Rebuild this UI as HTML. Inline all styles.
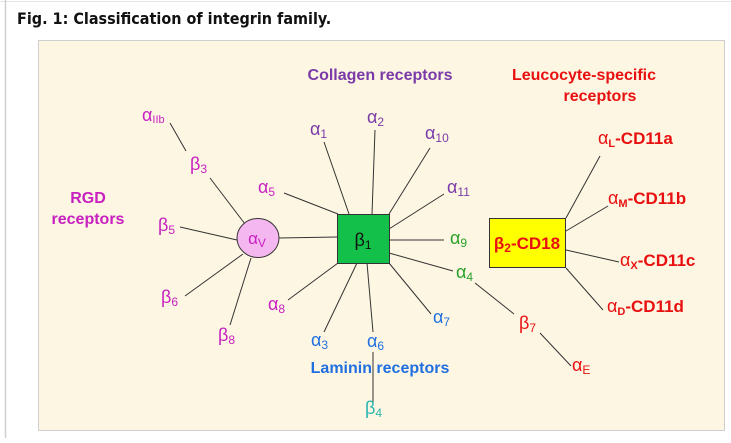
<!DOCTYPE html>
<html><head><meta charset="utf-8"><style>
body{margin:0;background:#fff;width:731px;height:438px;overflow:hidden;font-family:"Liberation Sans",Arial,sans-serif}
</style></head><body>
<svg width="731" height="438" viewBox="0 0 731 438" xmlns="http://www.w3.org/2000/svg" font-family="Liberation Sans, Arial, sans-serif">
<line x1="0" y1="1.5" x2="731" y2="1.5" stroke="#e4e4e4"/>
<line x1="5.5" y1="0" x2="5.5" y2="438" stroke="#cfcfcf" stroke-width="1.5"/>
<text x="17" y="24" font-size="16" font-weight="bold" fill="#111" font-family="DejaVu Sans Condensed, Liberation Sans Narrow, sans-serif">Fig. 1: Classification of integrin family.</text>
<rect x="38.5" y="40.5" width="686" height="390" fill="#fdf6e2" stroke="#cfcfcf"/>
<g stroke="#333" stroke-width="1">
<line x1="170" y1="123" x2="186" y2="151"/>
<line x1="210" y1="178" x2="245" y2="224"/>
<line x1="284" y1="193" x2="338" y2="214"/>
<line x1="324" y1="142" x2="349" y2="214"/>
<line x1="375" y1="130" x2="372" y2="214"/>
<line x1="430" y1="148" x2="389" y2="214"/>
<line x1="444" y1="194" x2="389" y2="229"/>
<line x1="389" y1="240" x2="444" y2="240"/>
<line x1="389" y1="253" x2="453" y2="271"/>
<line x1="389" y1="263" x2="431" y2="314"/>
<line x1="475" y1="283" x2="514" y2="314"/>
<line x1="540" y1="333" x2="571" y2="366"/>
<line x1="367" y1="263" x2="373" y2="332"/>
<line x1="373" y1="352" x2="373" y2="402"/>
<line x1="357" y1="263" x2="324" y2="332"/>
<line x1="338" y1="263" x2="288" y2="300"/>
<line x1="279" y1="238" x2="337" y2="237"/>
<line x1="180" y1="227" x2="237" y2="240"/>
<line x1="185" y1="296" x2="243" y2="254"/>
<line x1="230" y1="325" x2="251" y2="258"/>
<line x1="600" y1="156" x2="566" y2="218"/>
<line x1="608" y1="206" x2="566" y2="231"/>
<line x1="566" y1="250" x2="619" y2="262"/>
<line x1="566" y1="268" x2="603" y2="310"/>
</g>
<rect x="337.5" y="214.5" width="52" height="49" fill="#13c04a" stroke="#333"/>
<text x="363" y="246" font-size="18" text-anchor="middle" fill="#111">β<tspan font-size="12" dy="3">1</tspan></text>
<ellipse cx="258" cy="238" rx="21" ry="19.5" fill="#f5b7f0" stroke="#333"/>
<text x="257" y="244" font-size="17" text-anchor="middle" fill="#c81fc0">α<tspan font-size="12" dy="3">V</tspan></text>
<rect x="489.5" y="218.5" width="76" height="49" fill="#ffff00" stroke="#333"/>
<text x="527" y="249" font-size="17" font-weight="bold" text-anchor="middle" fill="#e81010">β<tspan font-size="12" dy="3">2</tspan><tspan dy="-3">-CD18</tspan></text>
<g font-size="16" font-weight="bold" text-anchor="middle">
<text x="380" y="80" fill="#7a3aa8">Collagen receptors</text>
<text x="584" y="80" fill="#e81010">Leucocyte-specific</text>
<text x="600" y="101" fill="#e81010">receptors</text>
<text x="88" y="203" fill="#c81fc0">RGD</text>
<text x="88" y="224" fill="#c81fc0">receptors</text>
<text x="380" y="373" fill="#1f6fe0">Laminin receptors</text>
</g>
<g font-size="18">
<text x="142" y="121" fill="#c81fc0">α<tspan font-size="11" dy="2">IIb</tspan></text>
<text x="190" y="170" fill="#c81fc0">β<tspan font-size="12" dy="3">3</tspan></text>
<text x="258" y="193" fill="#c81fc0">α<tspan font-size="12" dy="3">5</tspan></text>
<text x="158" y="231" fill="#c81fc0">β<tspan font-size="12" dy="3">5</tspan></text>
<text x="161" y="303" fill="#c81fc0">β<tspan font-size="12" dy="3">6</tspan></text>
<text x="218" y="341" fill="#c81fc0">β<tspan font-size="12" dy="3">8</tspan></text>
<text x="268" y="310" fill="#c81fc0">α<tspan font-size="12" dy="3">8</tspan></text>
<text x="310" y="135" fill="#7a3aa8">α<tspan font-size="12" dy="3">1</tspan></text>
<text x="367" y="123" fill="#7a3aa8">α<tspan font-size="12" dy="3">2</tspan></text>
<text x="425" y="139" fill="#7a3aa8">α<tspan font-size="12" dy="3">10</tspan></text>
<text x="447" y="193" fill="#7a3aa8">α<tspan font-size="12" dy="3">11</tspan></text>
<text x="450" y="244" fill="#2aa02a">α<tspan font-size="12" dy="3">9</tspan></text>
<text x="456" y="278" fill="#2aa02a">α<tspan font-size="12" dy="3">4</tspan></text>
<text x="433" y="323" fill="#1f6fe0">α<tspan font-size="12" dy="3">7</tspan></text>
<text x="311" y="346" fill="#1f6fe0">α<tspan font-size="12" dy="3">3</tspan></text>
<text x="367" y="347" fill="#1f6fe0">α<tspan font-size="12" dy="3">6</tspan></text>
<text x="365" y="414" fill="#2ab5b0">β<tspan font-size="12" dy="3">4</tspan></text>
<text x="519" y="329" fill="#e81010">β<tspan font-size="12" dy="3">7</tspan></text>
<text x="572" y="371" fill="#e81010">α<tspan font-size="12" dy="3">E</tspan></text>
</g>
<g font-size="17" font-weight="bold" fill="#e81010">
<text x="598" y="144"><tspan font-weight="normal" font-size="18">α</tspan><tspan font-size="11" dy="3">L</tspan><tspan dy="-3">-CD11a</tspan></text>
<text x="608" y="204"><tspan font-weight="normal" font-size="18">α</tspan><tspan font-size="11" dy="3">M</tspan><tspan dy="-3">-CD11b</tspan></text>
<text x="620" y="266"><tspan font-weight="normal" font-size="18">α</tspan><tspan font-size="11" dy="3">X</tspan><tspan dy="-3">-CD11c</tspan></text>
<text x="607" y="312"><tspan font-weight="normal" font-size="18">α</tspan><tspan font-size="11" dy="3">D</tspan><tspan dy="-3">-CD11d</tspan></text>
</g>
</svg>
</body></html>
